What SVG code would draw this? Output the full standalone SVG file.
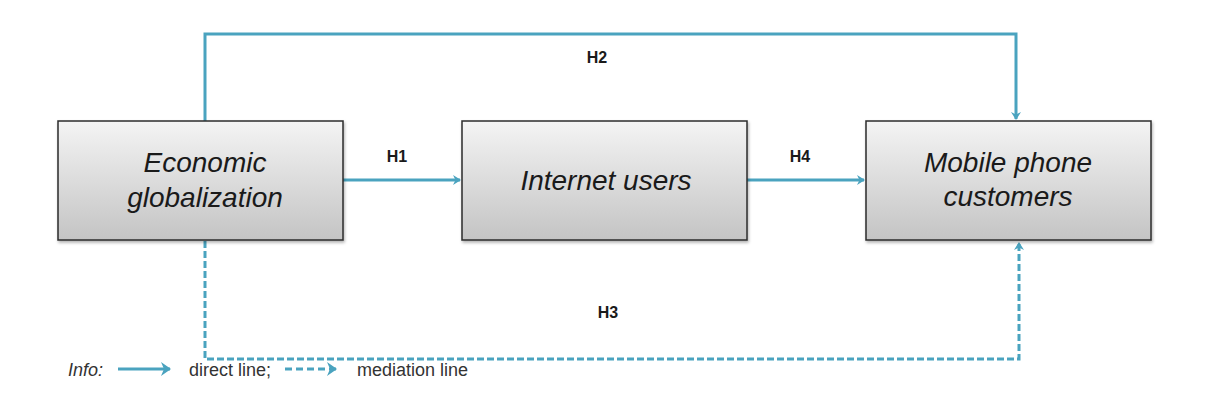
<svg xmlns="http://www.w3.org/2000/svg" width="1206" height="405" viewBox="0 0 1206 405">
<style>
.box{fill:url(#g);stroke:#2b2b2b;stroke-width:1.5}
.nt{font-family:"Liberation Sans",Arial,sans-serif;font-style:italic;font-size:28px;fill:#1a1a1a;text-anchor:middle}
.lbl{font-family:"Liberation Sans",Arial,sans-serif;font-size:16px;font-weight:bold;fill:#1a1a1a;text-anchor:middle}
.leg{font-family:"Liberation Sans",Arial,sans-serif;font-size:18px;fill:#333}
.c{fill:none;stroke:#4aa3bf;stroke-width:3}
.d{stroke-dasharray:7 3}
</style>
<defs>
<linearGradient id="g" x1="0" y1="0" x2="0" y2="1">
<stop offset="0" stop-color="#f4f4f4"/>
<stop offset="1" stop-color="#c4c4c4"/>
</linearGradient>
<marker id="a" markerWidth="10" markerHeight="10" refX="7" refY="5" orient="auto" markerUnits="userSpaceOnUse">
<path d="M0,0 L8,5 L0,10 L2.5,5 Z" fill="#4aa3bf"/>
</marker>
<marker id="b" markerWidth="12" markerHeight="14" refX="9" refY="7" orient="auto" markerUnits="userSpaceOnUse">
<path d="M0,0 L10,7 L0,14 L3,7 Z" fill="#4aa3bf"/>
</marker>
<filter id="s" x="-5%" y="-5%" width="115%" height="120%">
<feDropShadow dx="1" dy="2" stdDeviation="1.5" flood-color="#000" flood-opacity="0.3"/>
</filter>
</defs>
<g id="connectors">
<path class="c" d="M205,121 V34 H1016 V119" marker-end="url(#a)"/>
<path class="c" d="M343,180 H460" marker-end="url(#a)"/>
<path class="c" d="M747,180 H864" marker-end="url(#a)"/>
<path class="c d" d="M205,241 V359 H1019 V243" marker-end="url(#a)"/>
<text class="lbl" x="597" y="63">H2</text>
<text class="lbl" x="397" y="162">H1</text>
<text class="lbl" x="800" y="162">H4</text>
<text class="lbl" x="608" y="318">H3</text>
</g>
<g id="node-economic">
<rect class="box" x="58" y="121" width="285" height="119" filter="url(#s)"/>
<text class="nt" x="205" y="172">Economic</text>
<text class="nt" x="205" y="207">globalization</text>
</g>
<g id="node-internet">
<rect class="box" x="462" y="121" width="285" height="119" filter="url(#s)"/>
<text class="nt" x="606" y="190">Internet users</text>
</g>
<g id="node-mobile">
<rect class="box" x="866" y="121" width="285" height="119" filter="url(#s)"/>
<text class="nt" x="1008" y="172">Mobile phone</text>
<text class="nt" x="1008" y="206">customers</text>
</g>
<g id="legend">
<text class="leg" x="68" y="376" font-style="italic">Info:</text>
<path class="c" d="M118,369 H170" marker-end="url(#b)"/>
<text class="leg" x="189" y="376">direct line;</text>
<path class="c" d="M285,369 H336" marker-end="url(#b)" style="stroke-dasharray:7 4"/>
<text class="leg" x="357" y="376">mediation line</text>
</g>
</svg>
